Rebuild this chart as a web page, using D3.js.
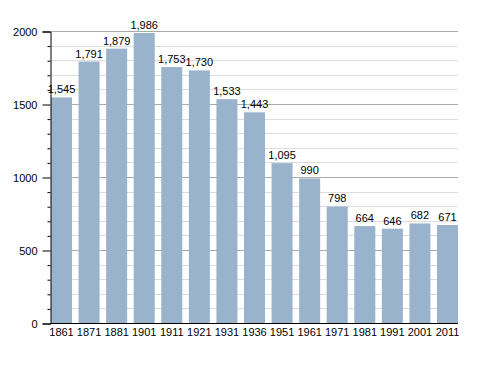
<!DOCTYPE html>
<html>
<head>
<meta charset="utf-8">
<script src="https://d3js.org/d3.v7.min.js"></script>
<style>
  body { margin: 0; background: #fff; }
  text { font-family: "Liberation Sans", Arial, sans-serif; }
</style>
</head>
<body>
<div id="chart"></div>
<script>
var years = ["1861", "1871", "1881", "1901", "1911", "1921", "1931", "1936",
             "1951", "1961", "1971", "1981", "1991", "2001", "2011"];
var population = [1545, 1791, 1879, 1986, 1753, 1730, 1533, 1443,
                  1095, 990, 798, 664, 646, 682, 671];
var yTicks = [0, 500, 1000, 1500, 2000];

var width = 488, height = 373;
var plotLeft = 51, plotRight = 458, plotTop = 31, plotBottom = 323;

var svg = d3.select("#chart").append("svg")
    .attr("width", width)
    .attr("height", height);

var x = d3.scaleBand()
    .domain(years)
    .range([plotLeft, plotRight])
    .paddingInner(0.238)
    .paddingOuter(0);

var y = d3.scaleLinear()
    .domain([0, 2000])
    .range([plotBottom, plotTop]);

// minor grid every 100
var minor = d3.range(100, 2001, 100).filter(function(v) { return v % 500 != 0; });
svg.selectAll("line.minor")
    .data(minor)
    .enter().append("line")
    .attr("x1", plotLeft).attr("x2", plotRight)
    .attr("y1", function(d) { return Math.round(y(d)) + 0.5; })
    .attr("y2", function(d) { return Math.round(y(d)) + 0.5; })
    .attr("stroke", "#dddddd");

svg.selectAll("line.major")
    .data(yTicks.slice(1))
    .enter().append("line")
    .attr("x1", plotLeft).attr("x2", plotRight)
    .attr("y1", function(d) { return Math.round(y(d)) + 0.5; })
    .attr("y2", function(d) { return Math.round(y(d)) + 0.5; })
    .attr("stroke", "#aaaaaa");

// bars
svg.selectAll("rect.bar")
    .data(population)
    .enter().append("rect")
    .attr("x", function(d, i) { return x(years[i]); })
    .attr("y", function(d) { return y(d); })
    .attr("width", x.bandwidth())
    .attr("height", function(d) { return plotBottom - y(d); })
    .attr("fill", "#99b3cc");

// value labels
svg.selectAll("text.val")
    .data(population)
    .enter().append("text")
    .attr("x", function(d, i) { return x(years[i]) + x.bandwidth() / 2; })
    .attr("y", function(d) { return y(d) - 4; })
    .attr("text-anchor", "middle")
    .attr("font-size", "11px")
    .attr("fill", "#000")
    .text(function(d) { return d3.format(",")(d); });

// y axis with minor ticks
var yAxis = d3.axisLeft(y).tickValues(yTicks).tickFormat(d3.format("d")).tickSize(8).tickPadding(5);
var gy = svg.append("g")
    .attr("transform", "translate(" + (plotLeft - 0.5) + ",0.5)")
    .call(yAxis);
gy.select(".domain").attr("stroke", "#000");
gy.selectAll("text").attr("font-size", "11px").attr("font-family", "Liberation Sans, Arial, sans-serif");

svg.append("g")
    .attr("transform", "translate(" + (plotLeft - 0.5) + ",0.5)")
    .call(d3.axisLeft(y).tickValues(minor).tickSize(3).tickFormat(""))
    .select(".domain").remove();

// x axis
var gx = svg.append("g")
    .attr("transform", "translate(0," + (plotBottom + 0.5) + ")")
    .call(d3.axisBottom(x).tickSize(0).tickPadding(5));
gx.select(".domain").attr("stroke", "#000").attr("d", "M" + (plotLeft - 1) + ",0H" + plotRight);
gx.selectAll("text").attr("font-size", "11px").attr("font-family", "Liberation Sans, Arial, sans-serif");
</script>
</body>
</html>
